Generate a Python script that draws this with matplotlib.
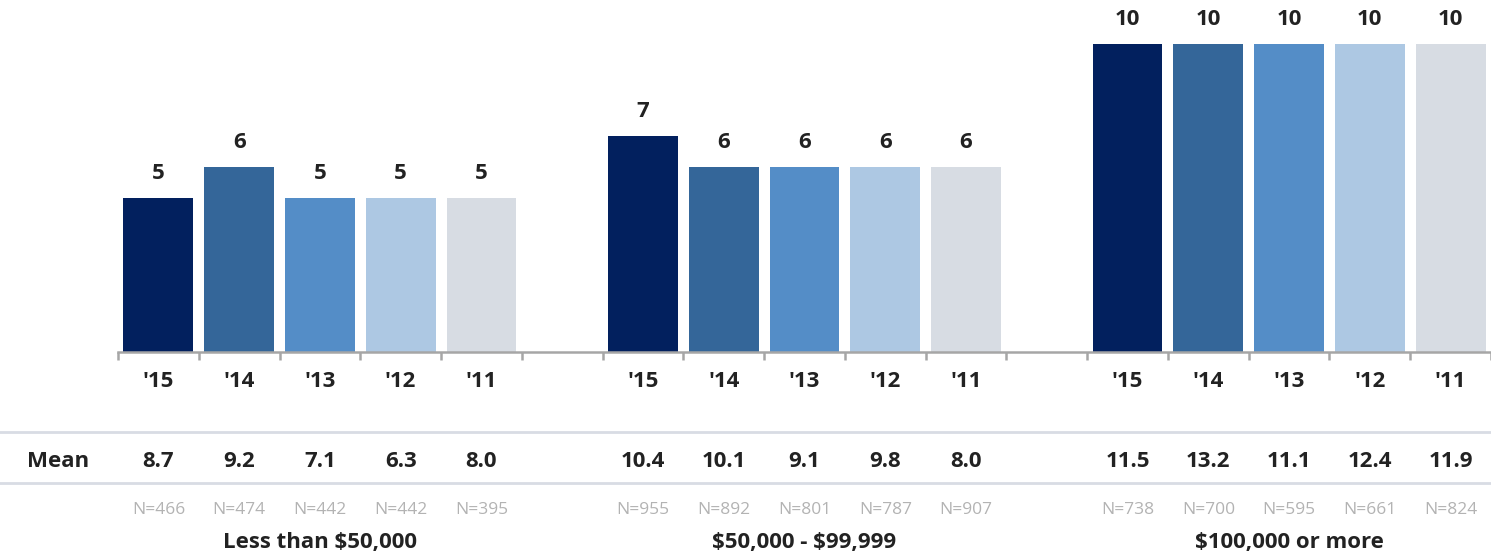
import matplotlib.pyplot as plt
from matplotlib.transforms import blended_transform_factory
import numpy as np

plt.rcParams['font.family'] = ['Open Sans', 'DejaVu Sans']

years = ["'15", "'14", "'13", "'12", "'11"]
groups = ['Less than \\$50,000', '\\$50,000 - \\$99,999', '\\$100,000 or more']
medians = [
    [5, 6, 5, 5, 5],
    [7, 6, 6, 6, 6],
    [10, 10, 10, 10, 10],
]
means = [
    ['8.7', '9.2', '7.1', '6.3', '8.0'],
    ['10.4', '10.1', '9.1', '9.8', '8.0'],
    ['11.5', '13.2', '11.1', '12.4', '11.9'],
]
counts = [
    [466, 474, 442, 442, 395],
    [955, 892, 801, 787, 907],
    [738, 700, 595, 661, 824],
]
colors = ['#02205e', '#346699', '#548dc7', '#adc8e3', '#d7dce3']

W, H = 1491, 555
fig = plt.figure(figsize=(W / 100, H / 100), dpi=100)

# axes: left edge at first tick, bottom at the baseline
ax = fig.add_axes([118 / W, (H - 352) / H, 1 - 118 / W, 352 / H])
slot = 81.0
ax.set_xlim(-0.5, -0.5 + (W - 118) / slot)
ax.set_ylim(0, 352 / 30.8)

txt = '#222222'
big = 16
for g in range(3):
    for i in range(5):
        x = g * 6 + i
        v = medians[g][i]
        ax.bar(x, v, width=0.865, color=colors[i], zorder=2)
        ax.text(x, v + 0.62, str(v), ha='center', va='baseline',
                fontsize=big, fontweight='bold', color=txt)

for s in ['top', 'right', 'left']:
    ax.spines[s].set_visible(False)
ax.spines['bottom'].set_color('#a6a6a6')
ax.spines['bottom'].set_linewidth(1.8)
ax.set_yticks([])
ax.set_xticks(np.arange(-0.5, 17, 1.0))
ax.set_xticklabels([])
ax.tick_params(axis='x', which='major', direction='out', length=6,
               width=1.8, color='#a6a6a6')

# text rows below the axis: x in data units, y in figure units
tr = blended_transform_factory(ax.transData, fig.transFigure)


def fy(p):
    return 1 - p / H


for g in range(3):
    for i in range(5):
        x = g * 6 + i
        fig.text(x, fy(387), years[i], transform=tr, ha='center', va='baseline',
                 fontsize=big, fontweight='bold', color=txt)
        fig.text(x, fy(467), means[g][i], transform=tr, ha='center', va='baseline',
                 fontsize=big, fontweight='bold', color=txt)
        fig.text(x, fy(514), 'N=%d' % counts[g][i], transform=tr, ha='center',
                 va='baseline', fontsize=12.5, color='#b3b3b3')
    fig.text(g * 6 + 2, fy(548), groups[g], transform=tr, ha='center',
             va='baseline', fontsize=16, fontweight='bold', color=txt)

fig.text(58 / W, fy(467), 'Mean', ha='center', va='baseline',
         fontsize=big, fontweight='bold', color=txt)

for p in (432, 483):
    fig.add_artist(plt.Line2D([0, 1], [fy(p), fy(p)], transform=fig.transFigure,
                              color='#d8dce4', lw=2))

fig.savefig('out.png', dpi=100)
